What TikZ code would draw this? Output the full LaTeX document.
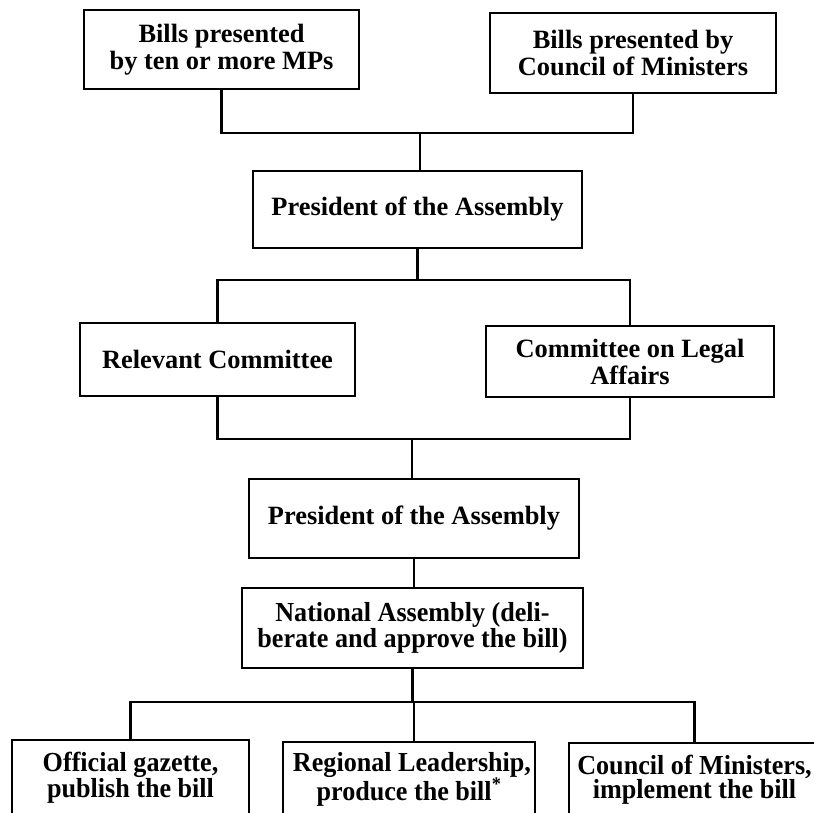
\documentclass[tikz,border=0pt]{standalone}
\usepackage{fontspec}
\setmainfont{Liberation Serif}
\newfontfamily\lowfont[FakeStretch=0.95]{Liberation Serif}
\begin{document}
\begin{tikzpicture}[x=1pt,y=-1pt,
  box/.style={draw, line width=2.2pt, align=center, inner sep=0pt,
    font=\fontsize{26.4}{27}\selectfont\bfseries},
  lowbox/.style={box, font=\lowfont\fontsize{27.5}{24}\selectfont\bfseries},
  conn/.style={line width=2.2pt}]
\useasboundingbox (0,0) rectangle (814,813);
\clip (0,0) rectangle (814,813);
\fill[white] (0,0) rectangle (814,813);

\node[box, minimum width=275pt, minimum height=79pt] (b1) at (221.5,49.5) {Bills presented\\by ten or more MPs};
\node[box, minimum width=286pt, minimum height=80pt] (b2) at (633,53) {Bills presented by\\Council of Ministers};
\node[box, minimum width=329pt, minimum height=77pt] (b3) at (417.5,209.5) {President of the Assembly};
\node[box, minimum width=275pt, minimum height=73pt] (b4) at (217.5,359.5) {Relevant Committee};
\node[box, minimum width=288pt, minimum height=71pt] (b5) at (630,361.5) {Committee on Legal\\Affairs};
\node[box, minimum width=330pt, minimum height=79pt] (b6) at (414,518.5) {President of the Assembly};
\node[lowbox, minimum width=341pt, minimum height=80pt] (b7) at (412.5,628) {National Assembly (deli-\\berate and approve the bill)};
\node[lowbox, minimum width=237pt, minimum height=76pt] (ba) at (130.5,778) {Official gazette,\\publish the bill};
\node[lowbox, minimum width=252pt, minimum height=74pt] (bb) at (409,779) {\hspace*{6pt}Regional Leadership,\\produce the bill\textsuperscript{*}};
\node[lowbox, minimum width=251pt, minimum height=73pt] (bc) at (694.5,779.5) {Council of Ministers,\\implement the bill};

\coordinate (j1) at (420,133);
\draw[conn] (b1.south) |- (j1) -| (b2.south);
\draw[conn] (j1) -- (j1 |- b3.north);

\coordinate (j2) at (416,280);
\draw[conn] (b3.south) -- (b3.south |- j2);
\draw[conn] (b4.north) |- (j2) -| (b5.north);

\coordinate (j3) at (412,439);
\draw[conn] (b4.south) |- (j3) -| (b5.south);
\draw[conn] (j3) -- (j3 |- b6.north);

\draw[conn] (b6.south) -- (b6.south |- b7.north);

\coordinate (j4) at (414,702);
\draw[conn] (b7.south) -- (b7.south |- j4);
\draw[conn] (ba.north) |- (j4) -| (bc.north);
\draw[conn] (j4) -- (j4 |- bb.north);
\end{tikzpicture}
\end{document}
